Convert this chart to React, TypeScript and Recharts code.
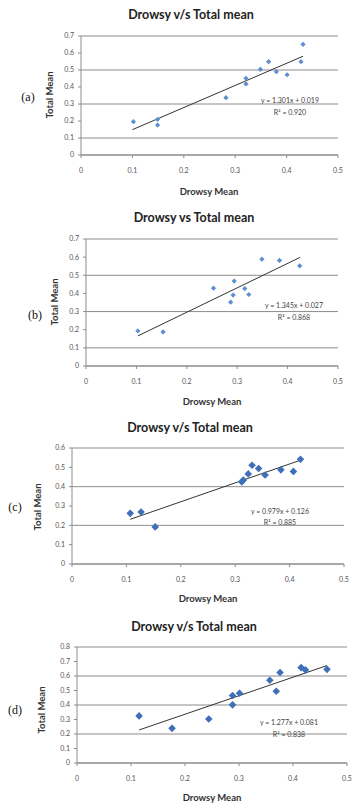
import React from 'react'
import {
  ScatterChart,
  Scatter,
  XAxis,
  YAxis,
  CartesianGrid,
  ReferenceLine,
} from 'recharts'

// drowsy mean (x) vs total mean (y), four panels
const drowsyA = [0.102, 0.149, 0.149, 0.282, 0.321, 0.321, 0.349, 0.365, 0.38, 0.401, 0.428, 0.432]
const totalA = [0.196, 0.21, 0.176, 0.337, 0.451, 0.418, 0.504, 0.549, 0.49, 0.472, 0.549, 0.651]
const trendA = [
  { x: 0.1, y: 0.149 },
  { x: 0.432, y: 0.581 },
]

const drowsyB = [0.103, 0.153, 0.253, 0.294, 0.292, 0.287, 0.315, 0.323, 0.349, 0.384, 0.424]
const totalB = [0.193, 0.188, 0.429, 0.468, 0.391, 0.352, 0.427, 0.394, 0.589, 0.582, 0.552]
const trendB = [
  { x: 0.103, y: 0.166 },
  { x: 0.425, y: 0.599 },
]

const drowsyC = [0.107, 0.127, 0.153, 0.312, 0.315, 0.324, 0.331, 0.343, 0.355, 0.384, 0.407, 0.42]
const totalC = [0.262, 0.269, 0.192, 0.425, 0.434, 0.466, 0.511, 0.494, 0.46, 0.487, 0.479, 0.542]
const trendC = [
  { x: 0.107, y: 0.231 },
  { x: 0.42, y: 0.537 },
]

const drowsyD = [0.115, 0.176, 0.244, 0.288, 0.288, 0.301, 0.357, 0.376, 0.369, 0.415, 0.423, 0.463]
const totalD = [0.325, 0.239, 0.303, 0.466, 0.401, 0.481, 0.571, 0.624, 0.495, 0.658, 0.642, 0.646]
const trendD = [
  { x: 0.115, y: 0.228 },
  { x: 0.463, y: 0.672 },
]

const xTicks = [0, 0.1, 0.2, 0.3, 0.4, 0.5]
const yTicks7 = [0, 0.1, 0.2, 0.3, 0.4, 0.5, 0.6, 0.7]
const yTicks6 = [0, 0.1, 0.2, 0.3, 0.4, 0.5, 0.6]
const yTicks8 = [0, 0.1, 0.2, 0.3, 0.4, 0.5, 0.6, 0.7, 0.8]

const titles = ['Drowsy v/s Total  mean', 'Drowsy vs Total  mean', 'Drowsy v/s Total mean', 'Drowsy v/s Total mean']
const equations = ['y = 1.301x + 0.019', 'y = 1.345x + 0.027', 'y = 0.979x + 0.126', 'y = 1.277x + 0.081']
const rSquared = ['R² = 0.920', 'R² = 0.868', 'R² = 0.885', 'R² = 0.838']
const panelLabels = ['(a)', '(b)', '(c)', '(d)']

const zip = (xs: number[], ys: number[]) => xs.map((x, i) => ({ x, y: ys[i] }))

// margins already account for the 1px axis width/height
const panels = [
  {
    top: 0, data: zip(drowsyA, totalA), trend: trendA, yTicks: yTicks7,
    margin: { top: 36, bottom: 44, left: 80, right: 16 }, dot: 2.6, color: '#5b8fd0',
    title: [191, 15], xlab: [209, 192], ylab: [50, 95], label: [28, 97], eq: [290, 100], r2: [290, 112],
  },
  {
    top: 200, data: zip(drowsyB, totalB), trend: trendB, yTicks: yTicks7,
    margin: { top: 39, bottom: 33, left: 85, right: 16 }, dot: 2.6, color: '#5b8fd0',
    title: [194, 218], xlab: [212, 402], ylab: [55, 302], label: [35, 315], eq: [294, 305], r2: [294, 317],
  },
  {
    top: 400, data: zip(drowsyC, totalC), trend: trendC, yTicks: yTicks6,
    margin: { top: 48, bottom: 35, left: 71, right: 10 }, dot: 3.8, color: '#3f6fb8',
    title: [190, 428], xlab: [208, 599], ylab: [38, 507], label: [15, 507], eq: [280, 511], r2: [280, 522],
  },
  {
    top: 600, data: zip(drowsyD, totalD), trend: trendD, yTicks: yTicks8,
    margin: { top: 47, bottom: 36, left: 76, right: 7 }, dot: 3.8, color: '#3f6fb8',
    title: [194, 627], xlab: [212, 798], ylab: [42, 710], label: [15, 710], eq: [289, 722], r2: [289, 734],
  },
]

const fmt = (v: number) => (v === 0 ? '0' : String(v))

const abs = (x: number, y: number, style: React.CSSProperties = {}): React.CSSProperties => ({
  position: 'absolute',
  left: x,
  top: y,
  transform: 'translate(-50%, -50%)',
  whiteSpace: 'nowrap',
  lineHeight: 1,
  ...style,
})

// excel-style square diamond marker
const diamond = (r: number, color: string) => (props: any) => {
  const { cx, cy } = props
  if (cx == null || cy == null) return <g />
  return (
    <polygon
      points={`${cx},${cy - r} ${cx + r},${cy} ${cx},${cy + r} ${cx - r},${cy}`}
      fill={color}
    />
  )
}

export default function App() {
  return (
    <div style={{ position: 'absolute', left: 0, top: 0, width: 354, height: 805, background: '#fff', fontFamily: 'Lato, sans-serif' }}>
      {panels.map((p, i) => (
        <React.Fragment key={i}>
          <div style={{ position: 'absolute', left: 0, top: p.top }}>
            <ScatterChart width={354} height={200} margin={p.margin}>
              <CartesianGrid vertical={false} stroke="#8c8c8c" />
              <XAxis
                type="number"
                dataKey="x"
                domain={[0, 0.5]}
                ticks={xTicks}
                tickFormatter={fmt}
                height={1}
                axisLine={{ stroke: '#8c8c8c' }}
                tickLine={{ stroke: '#8c8c8c' }}
                tickSize={3}
                tickMargin={10}
                tick={{ fontSize: 7, fill: '#555' }}
              />
              <YAxis
                type="number"
                dataKey="y"
                domain={[0, p.yTicks[p.yTicks.length - 1]]}
                ticks={p.yTicks}
                tickFormatter={fmt}
                width={1}
                axisLine={{ stroke: '#8c8c8c' }}
                tickLine={{ stroke: '#8c8c8c' }}
                tickSize={3}
                tickMargin={4}
                tick={{ fontSize: 7, fill: '#555' }}
              />
              <ReferenceLine
                segment={p.trend}
                stroke="#333"
                strokeWidth={1}
                ifOverflow="visible"
              />
              <Scatter
                data={p.data}
                fill={p.color}
                shape={diamond(p.dot, p.color)}
                legendType="none"
                isAnimationActive={false}
              />
            </ScatterChart>
          </div>
          <div style={abs(p.title[0], p.title[1], { fontSize: 12.5, fontWeight: 700, color: '#222' })}>{titles[i]}</div>
          <div style={abs(p.xlab[0], p.xlab[1], { fontSize: 9.5, fontWeight: 700, color: '#333' })}>Drowsy Mean</div>
          <div style={abs(p.ylab[0], p.ylab[1], { fontSize: 9.5, fontWeight: 700, color: '#333', transform: 'translate(-50%, -50%) rotate(-90deg)' })}>Total Mean</div>
          <div style={abs(p.label[0], p.label[1], { fontSize: 12, fontFamily: '"Liberation Serif", serif', color: '#111' })}>{panelLabels[i]}</div>
          <div style={abs(p.eq[0], p.eq[1], { fontSize: 7, color: '#444' })}>{equations[i]}</div>
          <div style={abs(p.r2[0], p.r2[1], { fontSize: 7, color: '#444' })}>{rSquared[i]}</div>
        </React.Fragment>
      ))}
    </div>
  )
}
